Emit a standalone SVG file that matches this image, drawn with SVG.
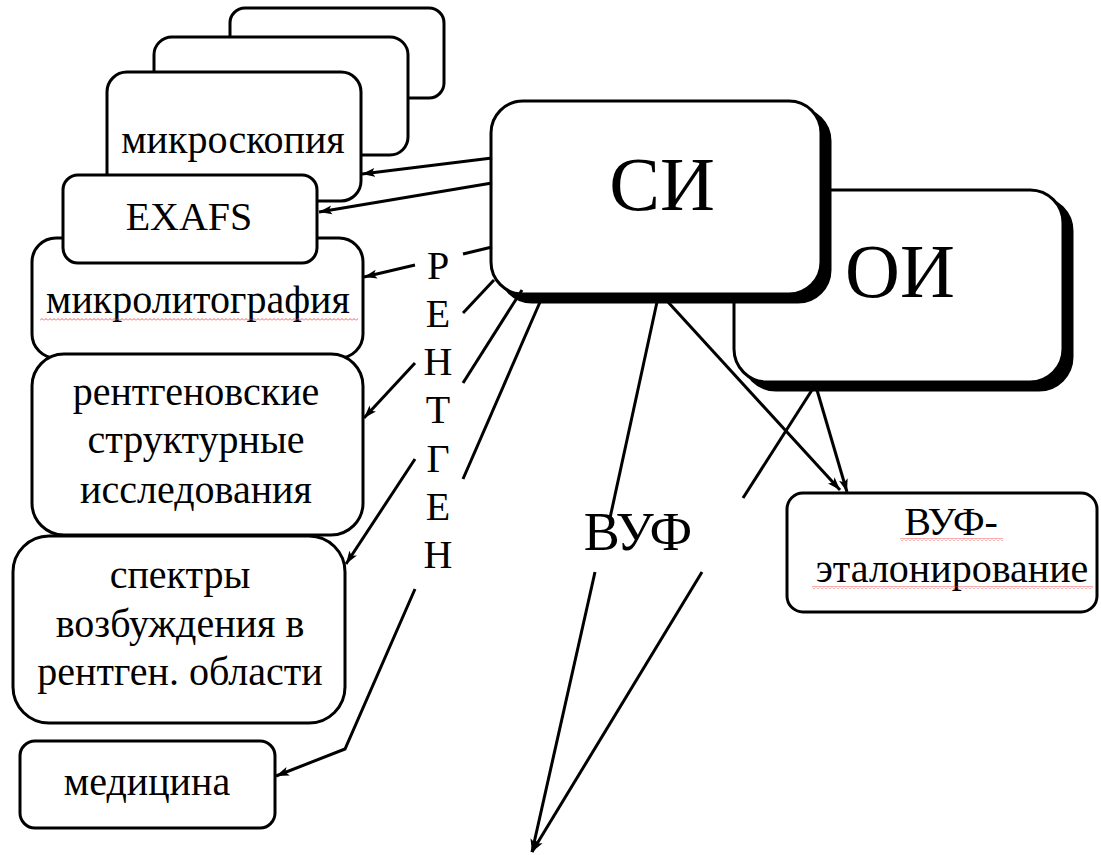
<svg xmlns="http://www.w3.org/2000/svg" width="1101" height="855" viewBox="0 0 1101 855" font-family="Liberation Serif, Times New Roman, serif" font-size="40" text-anchor="middle">
<defs>
<marker id="arr" markerWidth="14" markerHeight="10" viewBox="-13 -5 14 10" refX="0" refY="0" orient="auto" markerUnits="userSpaceOnUse">
<path d="M0,0 L-13,-4.5 L-10,0 L-13,4.5 z" fill="#000"/>
</marker>
<pattern id="squig" width="4" height="3" patternUnits="userSpaceOnUse">
<path d="M0,2.5 L2,0.5 L4,2.5" stroke="#e33" stroke-width="0.8" fill="none"/>
</pattern>
</defs>
<rect width="1101" height="855" fill="#fff"/>

<g fill="#fff" stroke="#000" stroke-width="3">
<g id="back1"><rect x="230" y="8" width="214" height="90" rx="15"/></g>
<g id="back2"><rect x="154" y="37" width="254" height="118" rx="18"/></g>
<g id="mikroskopiya"><rect x="107" y="72" width="254" height="129" rx="20"/>
<text x="233" y="153" fill="#000" stroke="none">микроскопия</text></g>
<g id="mikrolitografiya"><rect x="32" y="238" width="331" height="120" rx="24"/>
<text x="198" y="313" fill="#000" stroke="none">микролитография</text>
<rect x="40" y="318" width="318" height="3" fill="url(#squig)" stroke="none"/></g>
<g id="exafs"><rect x="63" y="175" width="254" height="88" rx="15"/>
<text x="189" y="230" fill="#000" stroke="none">EXAFS</text></g>
<g id="rentgen-struct"><rect x="32" y="354" width="331" height="181" rx="32"/>
<g fill="#000" stroke="none">
<text x="196" y="405">рентгеновские</text>
<text x="196" y="453">структурные</text>
<text x="196" y="503">исследования</text></g></g>
<g id="spektry"><rect x="13" y="536" width="332" height="187" rx="36"/>
<g fill="#000" stroke="none">
<text x="180" y="588">спектры</text>
<text x="180" y="637">возбуждения в</text>
<text x="180" y="685">рентген. области</text></g></g>
<g id="meditsina"><rect x="20" y="741" width="255" height="87" rx="15"/>
<text x="147" y="795" fill="#000" stroke="none">медицина</text></g>

<g id="OI"><rect x="743" y="198" width="329" height="192" rx="33" fill="#000"/>
<rect x="734" y="190" width="329" height="192" rx="33"/>
<text x="900" y="297" font-size="76" fill="#000" stroke="none">ОИ</text></g>
<g id="SI"><rect x="500" y="109" width="330" height="193" rx="32" fill="#000"/>
<rect x="491" y="101" width="330" height="193" rx="32"/>
<text x="662" y="210" font-size="76" fill="#000" stroke="none">СИ</text></g>

<g id="vuf-etalon"><rect x="787" y="493" width="310" height="119" rx="16"/>
<g fill="#000" stroke="none">
<text x="951" y="535">ВУФ-</text>
<text x="952" y="582">эталонирование</text>
<rect x="900" y="538" width="103" height="3" fill="url(#squig)"/>
<rect x="812" y="586" width="281" height="3" fill="url(#squig)"/></g></g>
</g>

<g id="connectors" fill="none" stroke="#000" stroke-width="3">
<line x1="492" y1="158" x2="362" y2="174" marker-end="url(#arr)"/>
<line x1="492" y1="183" x2="319" y2="212" marker-end="url(#arr)"/>
<line x1="492" y1="247" x2="463" y2="254"/>
<line x1="415" y1="265" x2="364" y2="277" marker-end="url(#arr)"/>
<line x1="494" y1="280" x2="463" y2="313"/>
<line x1="415" y1="363" x2="364" y2="418" marker-end="url(#arr)"/>
<line x1="522" y1="290" x2="463" y2="383"/>
<line x1="415" y1="459" x2="346" y2="564" marker-end="url(#arr)"/>
<line x1="540" y1="302" x2="463" y2="479"/>
<polyline points="415,589 345,749 276,776" marker-end="url(#arr)"/>
<line x1="657" y1="302" x2="610" y2="518"/>
<line x1="595" y1="572" x2="532" y2="852" marker-end="url(#arr)"/>
<line x1="812" y1="390" x2="743" y2="498"/>
<line x1="702" y1="572" x2="532" y2="852" marker-end="url(#arr)"/>
<line x1="668" y1="302" x2="840" y2="490" marker-end="url(#arr)"/>
<line x1="817" y1="390" x2="847" y2="492" marker-end="url(#arr)"/>
</g>

<g id="rentgen-label" fill="#000">
<text x="438" y="279">Р</text>
<text x="438" y="327">Е</text>
<text x="438" y="375">Н</text>
<text x="438" y="423">Т</text>
<text x="438" y="472">Г</text>
<text x="438" y="520">Е</text>
<text x="438" y="568">Н</text>
</g>
<g id="vuf-label" fill="#000"><text x="638" y="550" font-size="54">ВУФ</text></g>
</svg>
